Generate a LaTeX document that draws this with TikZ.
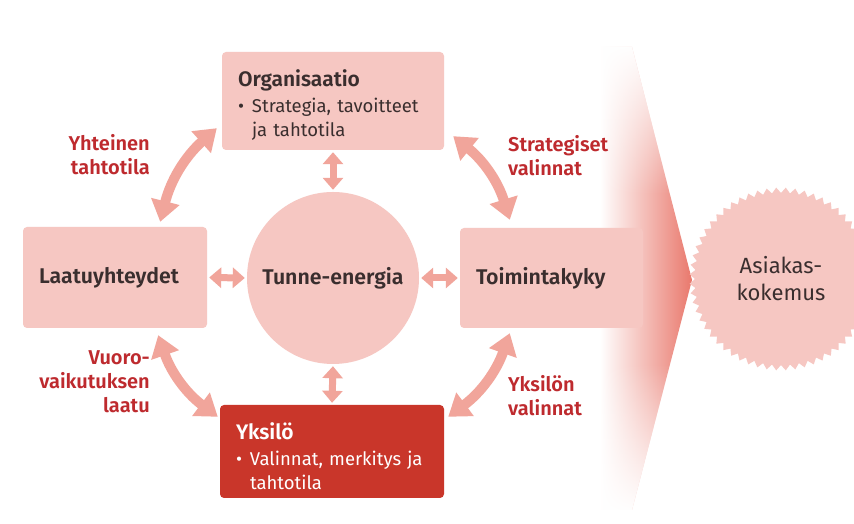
\documentclass[tikz,border=0pt]{standalone}
\usepackage{fontspec}
\setmainfont{Fira Sans}[BoldFont={Fira Sans SemiBold}]
\usetikzlibrary{arrows.meta,shapes.geometric,calc,fadings}
\definecolor{boxpink}{HTML}{F6C7C2}
\definecolor{arrowpink}{HTML}{F1A59B}
\definecolor{redbox}{HTML}{C9362A}
\definecolor{redtext}{HTML}{BE2A2E}
\definecolor{darktext}{HTML}{3A2E2E}
\definecolor{wedgered}{HTML}{E9786C}
\newcommand{\bul}{\makebox[14pt][l]{\textbullet}}
\newcommand{\ttl}[1]{{\fontsize{21}{24}\selectfont\bfseries #1}}
\begin{document}
\begin{tikzpicture}[x=1pt,y=1pt,
  pinkbox/.style={fill=boxpink, rounded corners=4pt, inner xsep=16pt, inner ysep=0pt, align=left, text=darktext,
    font=\fontsize{18.5}{24}\selectfont},
  labelbox/.style={pinkbox, font=\fontsize{21.3}{24}\selectfont\bfseries},
  redbox/.style={pinkbox, fill=redbox, text=white},
  redlab/.style={text=redtext, inner sep=0pt, font=\fontsize{20}{24}\selectfont\bfseries},
  bigarrow/.style={draw=arrowpink, line width=10pt,
    {Triangle[width=28pt,length=21pt]}-{Triangle[width=28pt,length=21pt]}},
  smallarrow/.style={draw=arrowpink, line width=7pt,
    {Triangle[width=20pt,length=12pt]}-{Triangle[width=20pt,length=12pt]}}
]
\useasboundingbox (0,0) rectangle (854,524);
\fill[white] (0,0) rectangle (854,524);

% wedge
\path[left color=white, right color=wedgered] (600,477) -- (632,477) -- (692,244) -- (632,14) -- (600,14) -- cycle;
\begin{scope}
  \clip (598,477) -- (632,477) -- (692,244) -- (632,14) -- (598,14) -- cycle;
  \fill[white, path fading=south] (595,480) rectangle (700,330);
  \fill[white, path fading=north] (595,10) rectangle (700,160);
\end{scope}

% boxes
\node[pinkbox, minimum width=222pt, minimum height=98pt, text width=190pt] (org) at (333,423)
  {\rule{0pt}{24pt}\ttl{Organisaatio}\\[2pt]\bul Strategia, tavoitteet\\\hspace*{14pt}ja tahtotila};
\node[labelbox, minimum width=184pt, minimum height=101pt, text width=152pt] (laat) at (115,246.5) {Laatuyhteydet};
\node[labelbox, minimum width=183pt, minimum height=100pt, text width=151pt] (toim) at (551.5,246) {Toimintakyky};
\node[redbox, minimum width=224pt, minimum height=93pt, text width=192pt] (yks) at (332,72.5)
  {\rule{0pt}{26pt}\ttl{Yksilö}\\[2pt]\bul Valinnat, merkitys ja\\\hspace*{14pt}tahtotila};
\node[circle, fill=boxpink, minimum size=172pt, inner sep=0pt, text=darktext,
  font=\fontsize{21.3}{24}\selectfont\bfseries] (te) at (333,246) {Tunne-energia};
\node[star, star points=60, star point ratio=0.94, minimum size=172pt, inner sep=0pt, fill=boxpink,
  text=darktext, align=center, font=\fontsize{22}{27}\selectfont] (ak) at (781,245) {Asiakas-\\kokemus};

% labels
\node[redlab, anchor=east, align=right] (l1) at (150,369) {Yhteinen\\tahtotila};
\node[redlab, anchor=west, align=left] (l2) at (508,368.5) {Strategiset\\valinnat};
\node[redlab, anchor=east, align=right] (l3) at (150,142) {Vuoro-\\vaikutuksen\\laatu};
\node[redlab, anchor=west, align=left] (l4) at (508,128) {Yksilön\\valinnat};

% small arrows
\draw[smallarrow, shorten <=2pt, shorten >=2pt] (org.south) -- (te.north);
\draw[smallarrow, shorten <=2pt, shorten >=2pt] (laat.east) -- (te.west);
\draw[smallarrow, shorten <=2pt, shorten >=2pt] (te.east) -- (toim.west);
\draw[smallarrow, shorten <=2pt, shorten >=2pt] (te.south) -- (yks.north);

% arc arrows
\coordinate (ul1) at ($(laat.north east)+(-47,5)$);
\coordinate (ul2) at ($(org.south west)+(-5,22)$);
\coordinate (ur1) at ($(org.south east)+(9,14)$);
\coordinate (ur2) at ($(toim.north west)+(50,8)$);
\coordinate (ll1) at ($(yks.north west)+(-2,-12)$);
\coordinate (ll2) at ($(laat.south east)+(-49,-7)$);
\coordinate (lr1) at ($(toim.south west)+(50,-5)$);
\coordinate (lr2) at ($(yks.north east)+(4,-12)$);
\draw[bigarrow] (ul1) to[bend left=17] (ul2);
\draw[bigarrow] (ur1) to[bend left=17] (ur2);
\draw[bigarrow] (ll1) to[bend left=17] (ll2);
\draw[bigarrow] (lr1) to[bend left=17] (lr2);
\end{tikzpicture}
\end{document}
